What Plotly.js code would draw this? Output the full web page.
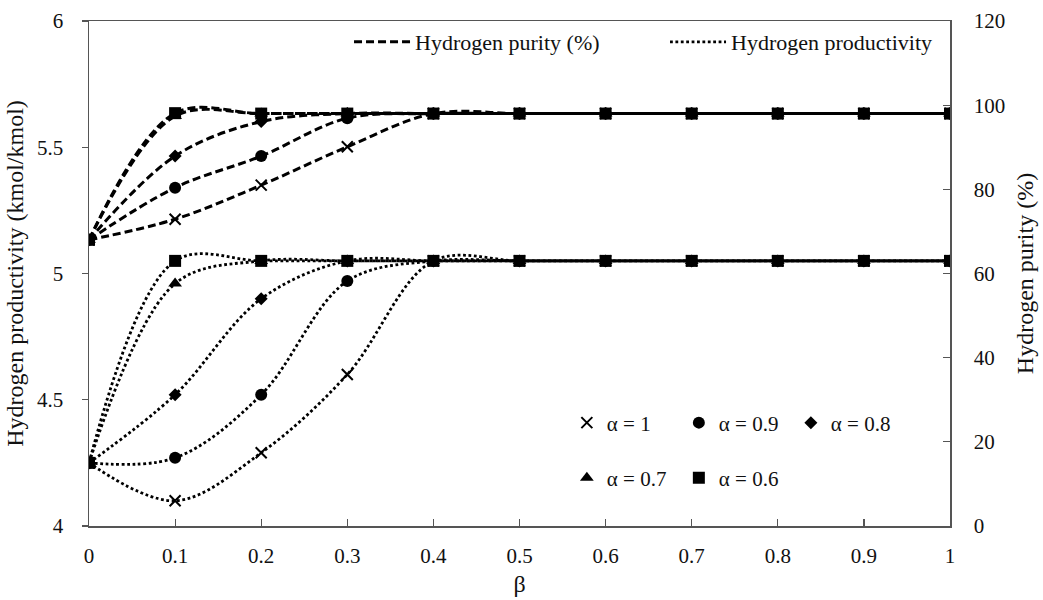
<!DOCTYPE html>
<html>
<head>
<meta charset="utf-8">
<script src="https://cdn.plot.ly/plotly-3.0.1.min.js"></script>
<style>html,body{margin:0;padding:0;background:#fff;}#chart{width:1043px;height:600px;}</style>
</head>
<body>
<div id="chart"></div>
<script>
// ---- data ----
var beta = [0, 0.1, 0.2, 0.3, 0.4, 0.5, 0.6, 0.7, 0.8, 0.9, 1];
var alphaNames = ['α = 1', 'α = 0.9', 'α = 0.8', 'α = 0.7', 'α = 0.6'];
var purityA1  = [68, 72.9, 81.0, 90.1, 98, 98, 98, 98, 98, 98, 98];
var purityA09 = [68, 80.4, 87.9, 96.9, 98, 98, 98, 98, 98, 98, 98];
var purityA08 = [68, 87.9, 96.1, 98, 98, 98, 98, 98, 98, 98, 98];
var purityA07 = [68, 97.4, 98, 98, 98, 98, 98, 98, 98, 98, 98];
var purityA06 = [68, 98.1, 98, 98, 98, 98, 98, 98, 98, 98, 98];
var prodA1  = [4.25, 4.10, 4.29, 4.60, 5.05, 5.05, 5.05, 5.05, 5.05, 5.05, 5.05];
var prodA09 = [4.25, 4.27, 4.52, 4.97, 5.05, 5.05, 5.05, 5.05, 5.05, 5.05, 5.05];
var prodA08 = [4.25, 4.52, 4.90, 5.05, 5.05, 5.05, 5.05, 5.05, 5.05, 5.05, 5.05];
var prodA07 = [4.25, 4.96, 5.05, 5.05, 5.05, 5.05, 5.05, 5.05, 5.05, 5.05, 5.05];
var prodA06 = [4.25, 5.05, 5.05, 5.05, 5.05, 5.05, 5.05, 5.05, 5.05, 5.05, 5.05];
var xTickVals = [0, 0.1, 0.2, 0.3, 0.4, 0.5, 0.6, 0.7, 0.8, 0.9, 1];
var xTickText = ['0', '0.1', '0.2', '0.3', '0.4', '0.5', '0.6', '0.7', '0.8', '0.9', '1'];
var yTickVals = [4, 4.5, 5, 5.5, 6];
var yTickText = ['4', '4.5', '5', '5.5', '6'];
var y2TickVals = [0, 20, 40, 60, 80, 100, 120];
var y2TickText = ['0', '20', '40', '60', '80', '100', '120'];

// ---- styles ----
var FONT = 'Liberation Serif';
var markerStyles = [
  {symbol: 'x-thin-open', size: 11, color: '#000', line: {width: 2, color: '#000'}},
  {symbol: 'circle', size: 12, color: '#000', line: {width: 0}},
  {symbol: 'diamond', size: 10, color: '#000', line: {width: 0}},
  {symbol: 'triangle-up', size: 12, color: '#000', line: {width: 0}},
  {symbol: 'square', size: 12, color: '#000', line: {width: 0}}
];
var puritySeries = [purityA1, purityA09, purityA08, purityA07, purityA06];
var prodSeries = [prodA1, prodA09, prodA08, prodA07, prodA06];
var dashLine = {color: '#000', width: 3, dash: '8px,4px', shape: 'spline', smoothing: 1};
var dotLine = {color: '#000', width: 2.8, dash: '2.8px,2.6px', shape: 'spline', smoothing: 1};

var traces = [];
prodSeries.forEach(function (ys, i) {
  traces.push({x: beta, y: ys, yaxis: 'y', mode: 'lines+markers', line: dotLine,
    marker: markerStyles[i], showlegend: false, hoverinfo: 'x+y', name: alphaNames[i]});
});
puritySeries.forEach(function (ys, i) {
  traces.push({x: beta, y: ys, yaxis: 'y2', mode: 'lines+markers', line: dashLine,
    marker: markerStyles[i], showlegend: false, hoverinfo: 'x+y', name: alphaNames[i]});
});
// legend entries for line styles
traces.push({x: [null], y: [null], mode: 'lines', line: {color: '#000', width: 3, dash: '8px,4px'},
  name: 'Hydrogen purity (%)', legend: 'legend', showlegend: true});
traces.push({x: [null], y: [null], mode: 'lines', line: {color: '#000', width: 2.8, dash: '2.8px,2.6px'},
  name: 'Hydrogen productivity', legend: 'legend', showlegend: true});
// legend entries for markers
alphaNames.forEach(function (nm, i) {
  traces.push({x: [null], y: [null], mode: 'markers', marker: markerStyles[i], name: nm,
    legend: i < 3 ? 'legend2' : 'legend3', showlegend: true});
});

var axisCommon = {
  showgrid: false, zeroline: false, showline: true, linecolor: '#555', linewidth: 1.5,
  tickcolor: '#555', tickwidth: 1.2, tickfont: {family: FONT, size: 21, color: '#111'}
};
var layout = {
  width: 1043, height: 600,
  margin: {l: 89, r: 93, t: 21, b: 74, pad: 0},
  paper_bgcolor: '#fff', plot_bgcolor: '#fff',
  font: {family: FONT, color: '#111'},
  xaxis: Object.assign({}, axisCommon, {
    range: [0, 1], tickmode: 'array', tickvals: xTickVals, ticktext: xTickText,
    ticks: 'inside', ticklen: 7, mirror: true, ticklabelstandoff: 10,
    title: {text: 'β', font: {family: FONT, size: 24, color: '#111'}, standoff: 8}
  }),
  yaxis: Object.assign({}, axisCommon, {
    range: [4, 6], tickmode: 'array', tickvals: yTickVals, ticktext: yTickText,
    ticks: 'outside', ticklen: 6, ticklabelstandoff: 14,
    title: {text: 'Hydrogen productivity (kmol/kmol)', font: {family: FONT, size: 24, color: '#111'}, standoff: 6}
  }),
  yaxis2: Object.assign({}, axisCommon, {
    range: [0, 120], overlaying: 'y', side: 'right', tickmode: 'array', tickvals: y2TickVals, ticktext: y2TickText,
    ticks: 'inside', ticklen: 7, ticklabelstandoff: 18,
    title: {text: 'Hydrogen purity (%)', font: {family: FONT, size: 24, color: '#111'}, standoff: 12}
  }),
  legend: {
    orientation: 'h', x: 0.302, xanchor: 'left', y: 1.0, yanchor: 'top',
    bgcolor: 'rgba(0,0,0,0)', itemwidth: 56, entrywidth: 245, entrywidthmode: 'pixels',
    font: {family: FONT, size: 22, color: '#111'}, itemclick: false, itemdoubleclick: false
  },
  legend2: {
    orientation: 'h', x: 0.555, xanchor: 'left', y: 0.204, yanchor: 'middle',
    bgcolor: 'rgba(0,0,0,0)', entrywidth: 67, entrywidthmode: 'pixels',
    font: {family: FONT, size: 21, color: '#111'}, itemclick: false, itemdoubleclick: false
  },
  legend3: {
    orientation: 'h', x: 0.555, xanchor: 'left', y: 0.095, yanchor: 'middle',
    bgcolor: 'rgba(0,0,0,0)', entrywidth: 67, entrywidthmode: 'pixels',
    font: {family: FONT, size: 21, color: '#111'}, itemclick: false, itemdoubleclick: false
  }
};
Plotly.newPlot('chart', traces, layout, {staticPlot: true, displayModeBar: false});
</script>
</body>
</html>
